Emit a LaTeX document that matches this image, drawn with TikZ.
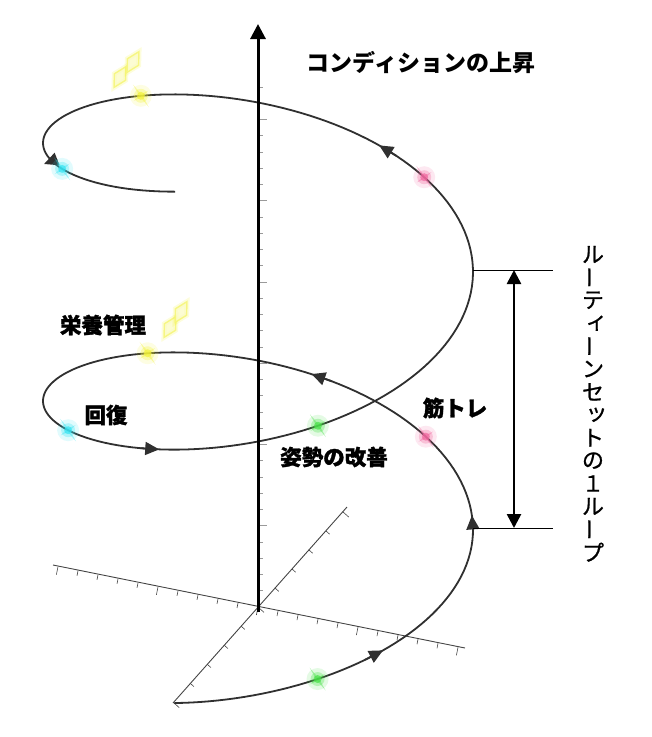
\documentclass[tikz,border=0pt]{standalone}
\usepackage{fontspec}
\usepackage{tikz}
\usetikzlibrary{arrows.meta, calc}

\newfontfamily\cjk{Noto Sans CJK JP}
\newfontfamily\cjkheavy[BoldFeatures={FakeBold=1.3}]{Noto Sans CJK JP}
\newfontfamily\cjkmid[FakeBold=0.8]{Noto Sans CJK JP}

\definecolor{curvegray}{HTML}{303030}
\definecolor{axisgray}{HTML}{444444}
\definecolor{tickgray}{HTML}{9A9A9A}
\definecolor{glowyellow}{HTML}{F2F23A}
\definecolor{glowcyan}{HTML}{38E4F2}
\definecolor{glowpink}{HTML}{F0669E}
\definecolor{glowgreen}{HTML}{48E048}

% a point of the spiral at parameter t
\newcommand{\hx}[1]{258+215*cos((#1) r)}
\newcommand{\hy}[1]{530-41.06*(#1)-(105-5*((#1)<0))*sin((#1) r)}

% a glowing star on the spiral
\newcommand{\sparkle}[2]{%
  \fill[#2, opacity=0.15] (#1) circle (11);
  \fill[#2, opacity=0.3] (#1) circle (7);
  \fill[#2, opacity=0.7] (#1) circle (4);
  \fill[#2, opacity=0.4, shift={(#1)}, rotate=35]
    (0,-14) -- (1.3,-1.3) -- (9,0) -- (1.3,1.3) -- (0,14)
    -- (-1.3,1.3) -- (-9,0) -- (-1.3,-1.3) -- cycle;
}

\begin{document}
\begin{tikzpicture}[x=1pt, y=-1pt,
    spiral/.style={curvegray, line width=1.8pt},
    axisline/.style={axisgray, line width=0.9pt},
    tickline/.style={axisgray, line width=0.6pt},
    dimline/.style={black, line width=0.8pt},
    headtip/.style={-{Triangle[length=14pt, width=13pt]}},
    label/.style={font=\cjkheavy\bfseries\fontsize{21.5}{21.5}\selectfont},
    vchar/.style={font=\cjkmid\fontsize{22}{22}\selectfont},
    vbar/.style={vchar, rotate=90},
    vsmall/.style={vchar, xshift=3.5pt},
    gleam/.style={glowyellow!75, fill=glowyellow!30, line width=1.4pt, opacity=0.75},
    gleamglow/.style={glowyellow, line width=5pt, opacity=0.18}]
  \useasboundingbox (0,0) rectangle (652,737);

  % Axes
  \coordinate (o) at (258,607);
  \coordinate (xl) at (53,565);
  \coordinate (xr) at (465,648);
  \coordinate (yl) at (173,703);
  \coordinate (yr) at (347,507);
  \coordinate (zb) at (258,612);
  \coordinate (zt) at (258,24);

  \draw[axisline] (xl) -- (xr);
  \draw[axisline] (yl) -- (yr);

  % Ticks
  \foreach \k in {-10,...,10} {
    \pgfmathsetmacro{\len}{ifthenelse(mod(\k,5)==0, 8, 5)}
    \draw[tickline] ($(o)+(20*\k,4.03*\k)$) -- ++(-0.2*\len,\len);
  }
  \foreach \k in {-5,...,5} {
    \pgfmathsetmacro{\len}{ifthenelse(mod(\k,5)==0, 8, 5)}
    \draw[tickline] ($(o)+(16.96*\k,-19.05*\k)$) -- ++(0.75*\len,0.67*\len);
  }
  \foreach \k in {1,...,32} {
    \pgfmathsetmacro{\len}{ifthenelse(mod(\k,5)==0, 9, 5)}
    \draw[tickgray, line width=0.6pt] (258,607-16.25*\k) -- ++(\len,0);
  }

  % The spiral
  \draw[spiral] plot[domain=-1.97:10.6, samples=300, variable=\t]
    ({\hx{\t}}, {\hy{\t}});
  \foreach \t in {-0.95, 0.1, 1.32, 4.235, 7.255}
    \draw[spiral, headtip] ({\hx{\t-0.1}}, {\hy{\t-0.1}}) -- ({\hx{\t}}, {\hy{\t}});
  \draw[spiral, headtip] (57,159) -- (44,164);

  \draw[line width=3pt, -{Triangle[length=15pt, width=15pt]}] (zb) -- (zt);

  % Stars
  \foreach \t [count=\i] in {8.43, 9.85, 6.97, 2.11, 3.63, 4.995, 0.675, -1.29}
    \coordinate (s\i) at ({\hx{\t}}, {\hy{\t}});
  \sparkle{s1}{glowyellow}
  \sparkle{s2}{glowcyan}
  \sparkle{s3}{glowpink}
  \sparkle{s4}{glowyellow}
  \sparkle{s5}{glowcyan}
  \sparkle{s6}{glowgreen}
  \sparkle{s7}{glowpink}
  \sparkle{s8}{glowgreen}

  \foreach \dx/\dy in {120/77, 133/62, 170/327, 181/312} {
    \draw[gleamglow, rotate around={-30:(\dx,\dy)}]
      (\dx,\dy-12) -- (\dx+6.5,\dy) -- (\dx,\dy+12) -- (\dx-6.5,\dy) -- cycle;
    \draw[gleam, rotate around={-30:(\dx,\dy)}]
      (\dx,\dy-12) -- (\dx+6.5,\dy) -- (\dx,\dy+12) -- (\dx-6.5,\dy) -- cycle;
  }

  % One loop of the routine
  \coordinate (d1) at (473,270);
  \coordinate (d2) at (473,528);
  \coordinate (e1) at (553,270);
  \coordinate (e2) at (553,528);
  \draw[dimline] (d1) -- (e1);
  \draw[dimline] (d2) -- (e2);
  \draw[line width=2.6pt, {Triangle[length=14pt, width=14pt]}-{Triangle[length=14pt, width=14pt]}]
    (514,270) -- (514,528);

  % Labels
  \node[font=\cjk\bfseries\fontsize{23}{23}\selectfont] (title) at (421,62) {コンディションの上昇};
  \node[label] (nutrition) at (103,325) {栄養管理};
  \node[label] (recovery) at (106,415) {回復};
  \node[label] (posture) at (334,457) {姿勢の改善};
  \node[label] (training) at (455,408) {筋トレ};

  % Vertical caption, one character per cell
  \foreach \ch/\sty [count=\i] in {ル/vchar, ー/vbar, テ/vchar, ィ/vsmall, ー/vbar,
      ン/vchar, セ/vchar, ッ/vsmall, ト/vchar, の/vchar, １/vchar, ル/vchar, ー/vbar, プ/vchar}
    \node[\sty, inner sep=0pt] (v\i) at (593,{254.5+22.9*(\i-1)}) {\makebox[0.4em]{\ch}};
\end{tikzpicture}
\end{document}
